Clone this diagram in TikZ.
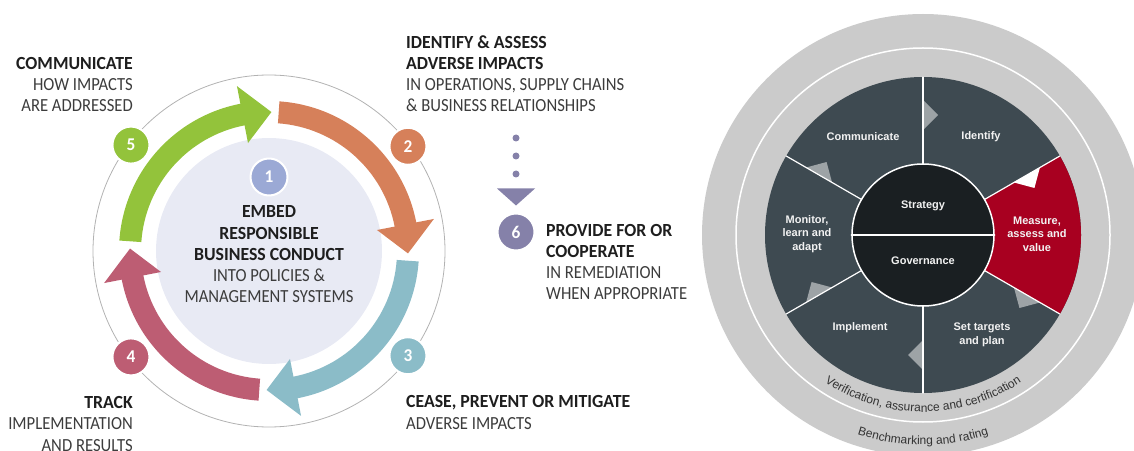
\documentclass[tikz,border=0pt]{standalone}
\usepackage{fontspec}
\setmainfont{Carlito}[FakeStretch=0.9, BoldFeatures={FakeStretch=0.96}]
\newfontfamily\wheelfont{Liberation Sans}
\usetikzlibrary{decorations.text}
\definecolor{steporange}{HTML}{D6805A}
\definecolor{stepteal}{HTML}{8BBCC8}
\definecolor{steppink}{HTML}{BD5D73}
\definecolor{stepgreen}{HTML}{93C33B}
\definecolor{stepone}{HTML}{9BA9D5}
\definecolor{stepsix}{HTML}{8581A9}
\definecolor{embedbg}{HTML}{E8EAF4}
\definecolor{headblack}{HTML}{1E1E1E}
\definecolor{bodygray}{HTML}{3C3C3C}
\definecolor{ringgray}{HTML}{CBCBCB}
\definecolor{segdark}{HTML}{3E4A51}
\definecolor{coredark}{HTML}{1A1F22}
\definecolor{segred}{HTML}{A80020}
\definecolor{markgray}{HTML}{9DA3A6}
\definecolor{ringtext}{HTML}{333333}
\newcommand{\stephead}[1]{\textcolor{headblack}{\textbf{#1}}}
\begin{document}
\begin{tikzpicture}[line join=round, line cap=round, x=1pt, y=1pt]
			\tikzset{steptext/.style={font=\fontsize{18.5}{21.3}\selectfont, text=bodygray, inner sep=0pt},
				stepnum/.style={circle, minimum size=37pt, inner sep=0pt, draw=white, line width=2pt, text=white, font=\bfseries\fontsize{18}{18}\selectfont},
				seglabel/.style={align=center, text=white!95!black, font=\wheelfont\bfseries\fontsize{11}{13.5}\selectfont, inner sep=0pt}}
			\useasboundingbox (0,0) rectangle (1134,450);
			\clip (0,0) rectangle (1134,450);
			\coordinate (cyc) at (269,199);
			\fill[embedbg] (cyc) circle[radius=113];
			\draw[black!30, line width=0.8pt] (cyc) circle[radius=176];
			\foreach \col [count=\i from 0] in {steporange,stepteal,steppink,stepgreen}{
				\pgfmathsetmacro\ta{86-90*\i}
				\pgfmathsetmacro\hb{11-90*\i}
				\pgfmathsetmacro\tp{-1-90*\i}
				\fill[\col, shift={(cyc)}] (\ta:150) arc[start angle=\ta, end angle=\hb, radius=150] -- (\hb:168) -- (\tp:139) -- (\hb:110) -- (\hb:128) arc[start angle=\hb, end angle=\ta, radius=128] -- cycle;
			}
			\node[stepnum, fill=stepone] (one) at (269,273) {1};
			\node[stepnum, fill=steporange] (two) at ([shift={(37:174)}]cyc) {2};
			\node[stepnum, fill=stepteal] (three) at ([shift={(-37:174)}]cyc) {3};
			\node[stepnum, fill=steppink] (four) at ([shift={(217.5:174)}]cyc) {4};
			\node[stepnum, fill=stepgreen] (five) at ([shift={(142.5:174)}]cyc) {5};
			\node[stepnum, fill=stepsix] (six) at (516,218) {6};
			\foreach \y in {312,294,276}
			\fill[stepsix] (516,\y) circle[radius=3.5];
			\fill[stepsix] ([yshift=7]six.north) -- ++(-19,17) -- ++(38,0) -- cycle;
			\node[steptext, anchor=base, align=center] (embed) at (269,147) {\stephead{EMBED}\\\stephead{RESPONSIBLE}\\\stephead{BUSINESS CONDUCT}\\INTO POLICIES \&\\MANAGEMENT SYSTEMS};
			\node[steptext, anchor=base east, align=right] (communicate) at (133,338) {\stephead{COMMUNICATE}\\HOW IMPACTS\\ARE ADDRESSED};
			\node[steptext, anchor=base east, align=right] (track) at (133,-1) {\stephead{TRACK}\\IMPLEMENTATION\\AND RESULTS};
			\node[steptext, anchor=base west, align=left] (identify) at (406,338) {\stephead{IDENTIFY \& ASSESS}\\\stephead{ADVERSE IMPACTS}\\IN OPERATIONS, SUPPLY CHAINS\\\& BUSINESS RELATIONSHIPS};
			\node[steptext, anchor=base west, align=left] (cease) at (406,21) {\stephead{CEASE, PREVENT OR MITIGATE}\\ADVERSE IMPACTS};
			\node[steptext, anchor=base west, align=left] (provide) at (546,150) {\stephead{PROVIDE FOR OR}\\\stephead{COOPERATE}\\IN REMEDIATION\\WHEN APPROPRIATE};
			\begin{scope}[shift={(923,215)}]
				\fill[ringgray] (0,0) circle[radius=221];
				\draw[white, line width=1.5pt] (0,0) circle[radius=187];
				\fill[segdark] (0,0) circle[radius=158];
				\fill[segred] (-30:71) -- (-30:158) arc[start angle=-30, end angle=30, radius=158] -- (30:71) -- cycle;
				\foreach \a in {90,150,210,270,330}
				\fill[markgray, rotate=\a] (105,0) -- (120,-15) -- (135,0) -- cycle;
				\fill[white, rotate=30] (105,0) -- (120,-15) -- (135,0) -- cycle;
				\foreach \a in {30,90,...,330}
				\draw[white, line width=1.2pt] (\a:71) -- (\a:158);
				\node[circle, fill=coredark, draw=white, line width=1.5pt, minimum size=142pt, inner sep=0pt] (core) at (0,0) {};
				\draw[white, line width=1.2pt] (core.west) -- (core.east);
				\node[seglabel] (strategy) at (0,29) {Strategy};
				\node[seglabel] (governance) at (0,-26) {Governance};
				\node[seglabel] (communicate2) at (-60,98) {Communicate};
				\node[seglabel] (identify2) at (58,98) {Identify};
				\node[seglabel] (measure) at (114,1) {Measure,\\assess and\\value};
				\node[seglabel] (settargets) at (59,-100) {Set targets\\and plan};
				\node[seglabel] (implement) at (-63,-93) {Implement};
				\node[seglabel] (monitor) at (-116,1) {Monitor,\\learn and\\adapt};
				\path[decorate, decoration={text along path, text align=center, text color=ringtext, text={|\wheelfont\fontsize{12}{12}\selectfont|Verification, assurance and certification}}] (232:177) arc[start angle=232, end angle=308, radius=177];
				\path[decorate, decoration={text along path, text align=center, text color=ringtext, text={|\wheelfont\fontsize{12}{12}\selectfont|Benchmarking and rating}}] (235:210) arc[start angle=235, end angle=305, radius=210];
			\end{scope}
		\end{tikzpicture}
\end{document}
